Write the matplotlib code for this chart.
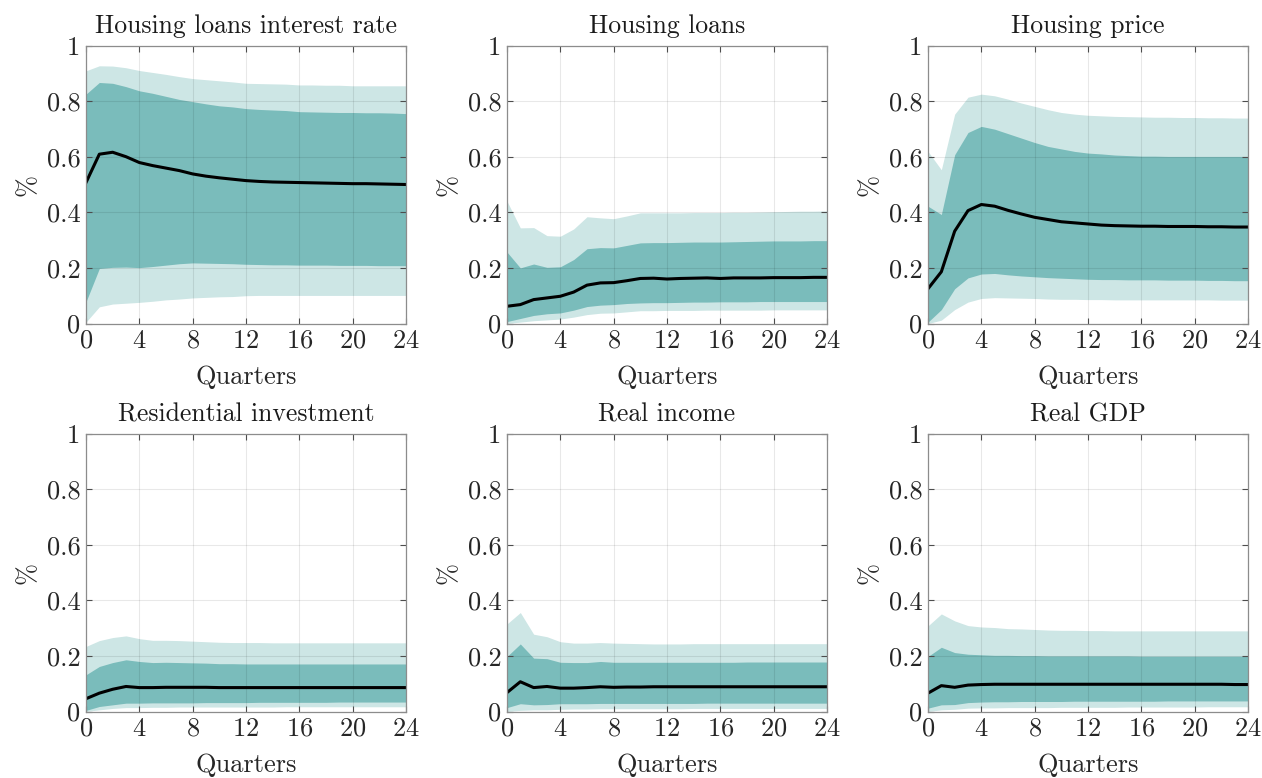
import numpy as np
import matplotlib
matplotlib.use('Agg')
import matplotlib.pyplot as plt

plt.rcParams['font.family'] = 'serif'
plt.rcParams['font.serif'] = ['cmr10', 'DejaVu Serif']
plt.rcParams['mathtext.fontset'] = 'cm'
plt.rcParams['axes.formatter.use_mathtext'] = True

quarters = np.arange(25)

titles = ['Housing loans interest rate', 'Housing loans', 'Housing price',
          'Residential investment', 'Real income', 'Real GDP']

# median response and 68% / 90% bands for each variable
rate_med = [0.507, 0.609, 0.616, 0.600, 0.579, 0.568, 0.559, 0.550, 0.538, 0.530,
            0.524, 0.519, 0.514, 0.511, 0.509, 0.508, 0.507, 0.506, 0.505, 0.504,
            0.503, 0.503, 0.502, 0.501, 0.500]
rate_lo68 = [0.078, 0.198, 0.202, 0.203, 0.201, 0.205, 0.210, 0.215, 0.218, 0.217,
             0.216, 0.215, 0.213, 0.212, 0.211, 0.211, 0.210, 0.210, 0.210, 0.209,
             0.209, 0.209, 0.208, 0.208, 0.208]
rate_hi68 = [0.825, 0.867, 0.864, 0.852, 0.837, 0.828, 0.817, 0.806, 0.798, 0.790,
             0.783, 0.779, 0.773, 0.770, 0.768, 0.766, 0.762, 0.761, 0.760, 0.759,
             0.759, 0.758, 0.758, 0.757, 0.755]
rate_lo90 = [0.005, 0.060, 0.070, 0.073, 0.076, 0.080, 0.085, 0.088, 0.092, 0.094,
             0.096, 0.097, 0.100, 0.101, 0.101, 0.101, 0.101, 0.101, 0.101, 0.101,
             0.101, 0.101, 0.101, 0.101, 0.101]
rate_hi90 = [0.909, 0.927, 0.926, 0.920, 0.910, 0.903, 0.896, 0.888, 0.881, 0.877,
             0.873, 0.869, 0.864, 0.863, 0.862, 0.861, 0.858, 0.858, 0.857, 0.857,
             0.855, 0.855, 0.855, 0.855, 0.855]

loans_med = [0.062, 0.068, 0.086, 0.092, 0.098, 0.113, 0.138, 0.146, 0.147, 0.154,
             0.162, 0.163, 0.160, 0.162, 0.163, 0.164, 0.162, 0.164, 0.164, 0.164,
             0.165, 0.165, 0.165, 0.166, 0.166]
loans_lo68 = [0.007, 0.018, 0.029, 0.035, 0.038, 0.048, 0.061, 0.066, 0.068, 0.072,
              0.074, 0.075, 0.075, 0.076, 0.077, 0.077, 0.078, 0.078, 0.078, 0.079,
              0.079, 0.079, 0.079, 0.079, 0.079]
loans_hi68 = [0.257, 0.200, 0.214, 0.202, 0.204, 0.230, 0.269, 0.273, 0.272, 0.281,
              0.290, 0.291, 0.291, 0.292, 0.293, 0.293, 0.293, 0.294, 0.295, 0.296,
              0.297, 0.297, 0.297, 0.298, 0.298]
loans_lo90 = [0.000, 0.005, 0.010, 0.013, 0.016, 0.023, 0.032, 0.037, 0.038, 0.042,
              0.046, 0.046, 0.047, 0.047, 0.047, 0.048, 0.048, 0.048, 0.048, 0.048,
              0.049, 0.049, 0.049, 0.049, 0.049]
loans_hi90 = [0.440, 0.344, 0.345, 0.316, 0.314, 0.340, 0.384, 0.380, 0.377, 0.387,
              0.398, 0.398, 0.398, 0.398, 0.399, 0.399, 0.399, 0.400, 0.400, 0.401,
              0.402, 0.403, 0.404, 0.404, 0.405]

price_med = [0.125, 0.186, 0.332, 0.406, 0.428, 0.422, 0.407, 0.394, 0.382, 0.374,
             0.366, 0.362, 0.358, 0.354, 0.352, 0.351, 0.350, 0.350, 0.349, 0.349,
             0.349, 0.348, 0.348, 0.347, 0.347]
price_lo68 = [0.005, 0.050, 0.125, 0.164, 0.178, 0.180, 0.175, 0.171, 0.168, 0.165,
              0.163, 0.161, 0.159, 0.158, 0.158, 0.157, 0.157, 0.157, 0.156, 0.156,
              0.156, 0.155, 0.155, 0.154, 0.154]
price_hi68 = [0.422, 0.392, 0.607, 0.687, 0.709, 0.699, 0.683, 0.667, 0.651, 0.637,
              0.628, 0.619, 0.613, 0.610, 0.606, 0.604, 0.602, 0.602, 0.601, 0.601,
              0.601, 0.601, 0.601, 0.601, 0.601]
price_lo90 = [0.000, 0.012, 0.050, 0.077, 0.090, 0.093, 0.092, 0.091, 0.090, 0.088,
              0.087, 0.087, 0.086, 0.086, 0.085, 0.085, 0.085, 0.085, 0.085, 0.085,
              0.085, 0.085, 0.084, 0.084, 0.084]
price_hi90 = [0.619, 0.553, 0.753, 0.814, 0.825, 0.819, 0.807, 0.793, 0.781, 0.769,
              0.759, 0.753, 0.749, 0.747, 0.745, 0.744, 0.743, 0.742, 0.742, 0.741,
              0.741, 0.740, 0.740, 0.739, 0.739]

resinv_med = [0.046, 0.066, 0.080, 0.090, 0.086, 0.086, 0.087, 0.087, 0.087, 0.087,
              0.086, 0.086, 0.086, 0.086, 0.086, 0.086, 0.086, 0.086, 0.086, 0.086,
              0.086, 0.086, 0.086, 0.086, 0.086]
resinv_lo68 = [0.004, 0.018, 0.024, 0.030, 0.030, 0.031, 0.031, 0.031, 0.031, 0.032,
               0.032, 0.032, 0.032, 0.033, 0.033, 0.033, 0.033, 0.033, 0.033, 0.034,
               0.034, 0.034, 0.034, 0.034, 0.034]
resinv_hi68 = [0.132, 0.162, 0.176, 0.186, 0.180, 0.176, 0.177, 0.176, 0.175, 0.174,
               0.172, 0.172, 0.171, 0.171, 0.171, 0.171, 0.171, 0.171, 0.171, 0.171,
               0.171, 0.171, 0.171, 0.171, 0.171]
resinv_lo90 = [0.000, 0.006, 0.011, 0.014, 0.014, 0.015, 0.015, 0.016, 0.016, 0.016,
               0.016, 0.016, 0.016, 0.016, 0.016, 0.017, 0.017, 0.017, 0.017, 0.017,
               0.017, 0.017, 0.017, 0.017, 0.017]
resinv_hi90 = [0.234, 0.255, 0.266, 0.272, 0.262, 0.256, 0.256, 0.255, 0.253, 0.251,
               0.249, 0.248, 0.248, 0.248, 0.247, 0.247, 0.247, 0.247, 0.247, 0.247,
               0.247, 0.247, 0.247, 0.247, 0.247]

income_med = [0.068, 0.107, 0.086, 0.090, 0.084, 0.084, 0.086, 0.089, 0.087, 0.088,
              0.088, 0.089, 0.089, 0.089, 0.089, 0.089, 0.089, 0.089, 0.089, 0.089,
              0.089, 0.089, 0.089, 0.089, 0.089]
income_lo68 = [0.014, 0.028, 0.024, 0.025, 0.028, 0.028, 0.028, 0.029, 0.029, 0.029,
               0.029, 0.029, 0.029, 0.029, 0.029, 0.030, 0.030, 0.030, 0.030, 0.030,
               0.030, 0.030, 0.030, 0.030, 0.030]
income_hi68 = [0.198, 0.243, 0.192, 0.190, 0.177, 0.176, 0.176, 0.180, 0.177, 0.177,
               0.177, 0.177, 0.177, 0.177, 0.177, 0.177, 0.177, 0.177, 0.178, 0.178,
               0.178, 0.178, 0.178, 0.178, 0.178]
income_lo90 = [0.000, 0.004, 0.006, 0.006, 0.008, 0.009, 0.009, 0.010, 0.010, 0.010,
               0.010, 0.010, 0.010, 0.010, 0.011, 0.011, 0.011, 0.011, 0.011, 0.011,
               0.011, 0.011, 0.011, 0.011, 0.011]
income_hi90 = [0.315, 0.356, 0.278, 0.269, 0.251, 0.246, 0.246, 0.248, 0.246, 0.245,
               0.244, 0.243, 0.243, 0.243, 0.244, 0.244, 0.244, 0.244, 0.244, 0.244,
               0.244, 0.244, 0.244, 0.244, 0.244]

gdp_med = [0.066, 0.093, 0.087, 0.095, 0.097, 0.098, 0.098, 0.098, 0.098, 0.098,
           0.098, 0.098, 0.098, 0.098, 0.098, 0.098, 0.098, 0.098, 0.098, 0.098,
           0.098, 0.098, 0.098, 0.097, 0.097]
gdp_lo68 = [0.012, 0.024, 0.025, 0.032, 0.034, 0.035, 0.035, 0.036, 0.036, 0.036,
            0.036, 0.037, 0.037, 0.037, 0.037, 0.037, 0.037, 0.037, 0.038, 0.038,
            0.038, 0.038, 0.038, 0.038, 0.038]
gdp_hi68 = [0.198, 0.231, 0.212, 0.206, 0.204, 0.202, 0.202, 0.201, 0.201, 0.200,
            0.200, 0.200, 0.200, 0.200, 0.200, 0.200, 0.199, 0.199, 0.199, 0.199,
            0.199, 0.199, 0.199, 0.199, 0.199]
gdp_lo90 = [0.000, 0.006, 0.008, 0.012, 0.013, 0.013, 0.014, 0.014, 0.014, 0.014,
            0.015, 0.015, 0.015, 0.015, 0.015, 0.016, 0.016, 0.016, 0.016, 0.016,
            0.016, 0.017, 0.017, 0.017, 0.017]
gdp_hi90 = [0.308, 0.351, 0.326, 0.309, 0.304, 0.302, 0.298, 0.297, 0.295, 0.293,
            0.292, 0.292, 0.291, 0.291, 0.290, 0.290, 0.290, 0.290, 0.290, 0.290,
            0.290, 0.290, 0.290, 0.290, 0.290]

panels = [
    (rate_med, rate_lo68, rate_hi68, rate_lo90, rate_hi90),
    (loans_med, loans_lo68, loans_hi68, loans_lo90, loans_hi90),
    (price_med, price_lo68, price_hi68, price_lo90, price_hi90),
    (resinv_med, resinv_lo68, resinv_hi68, resinv_lo90, resinv_hi90),
    (income_med, income_lo68, income_hi68, income_lo90, income_hi90),
    (gdp_med, gdp_lo68, gdp_hi68, gdp_lo90, gdp_hi90),
]

light = '#cde6e5'
dark = '#7abcbb'
edge = '#8c8c8c'

fig = plt.figure(figsize=(12.62, 7.78), dpi=100)
W, H = 1262.0, 778.0
lefts = [86, 507, 928]
tops = [45.5, 433.5]
aw, ah = 320, 278

for k, (title, (med, lo68, hi68, lo90, hi90)) in enumerate(zip(titles, panels)):
    r, c = divmod(k, 3)
    ax = fig.add_axes([lefts[c] / W, 1 - (tops[r] + ah) / H, aw / W, ah / H])
    ax.fill_between(quarters, lo90, hi90, color=light, lw=0, zorder=1)
    ax.fill_between(quarters, lo68, hi68, color=dark, lw=0, zorder=2)
    ax.plot(quarters, med, color='k', lw=2.2, zorder=3)
    ax.set_xlim(0, 24)
    ax.set_ylim(0, 1)
    ax.set_xticks(np.arange(0, 25, 4))
    ax.set_yticks([0, 0.2, 0.4, 0.6, 0.8, 1])
    ax.set_yticklabels(['0', '0.2', '0.4', '0.6', '0.8', '1'])
    ax.grid(True, color='k', alpha=0.09, lw=0.8)
    ax.set_axisbelow(False)
    ax.tick_params(direction='in', top=True, right=True, length=4,
                   width=0.8, color='#4d4d4d', labelsize=19,
                   labelcolor='#262626', pad=4)
    for s in ax.spines.values():
        s.set_color(edge)
        s.set_linewidth(0.9)
        s.set_zorder(5)
    ax.set_title(title, fontsize=18.5, color='#1a1a1a', pad=9)
    ax.set_xlabel('Quarters', fontsize=19, color='#262626', labelpad=9)
    ax.set_ylabel('%', fontsize=19, color='#262626', labelpad=5)

plt.savefig('out.png', dpi=100)
